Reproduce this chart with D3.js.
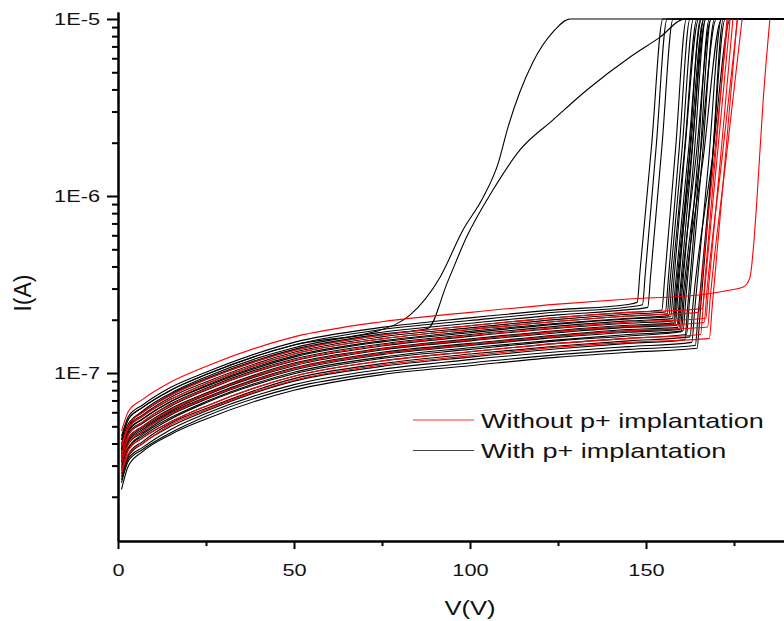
<!DOCTYPE html>
<html>
<head>
<meta charset="utf-8">
<script src="https://cdn.jsdelivr.net/npm/d3@7"></script>
<style>
	html, body { margin: 0; padding: 0; background: #fff; }
	svg { display: block; font-family: 'Liberation Sans', Arial, sans-serif; }
	.axis path, .axis line { stroke: #000; stroke-width: 2; }
	.curve { fill: none; stroke-width: 1.1; }
</style>
</head>
<body>
<svg id="iv-chart" width="784" height="621"></svg>
<script>
// voltages (V) where the leakage part of every curve is read
var leakVolts = [1, 3, 7, 15, 25, 50, 75, 100, 125, 145];

// leakage currents in nA, one row per device, read along leakVolts
var redLeak = [
	[47, 61, 71, 89, 109, 160, 195, 220, 245, 262],
	[39, 51, 60, 75, 92, 134, 164, 185, 206, 220],
	[38, 49, 57, 71, 87, 128, 156, 176, 196, 210],
	[35, 45, 53, 66, 81, 118, 144, 163, 181, 194],
	[33, 43, 50, 62, 76, 112, 137, 154, 172, 183],
	[31, 40, 47, 59, 72, 106, 129, 145, 162, 173],
	[28, 37, 43, 53, 65, 96, 117, 132, 147, 157],
	[27, 35, 40, 51, 62, 91, 111, 125, 140, 149]
];

// breakdown part of every red curve: [V, nA], up to the 10 uA compliance
var redBreak = [
	[[165, 276], [172, 290], [177.6, 306], [179.5, 345], [180.8, 600], [181.5, 950], [183.3, 3500], [185.2, 10000]],
	[[166, 231], [166.8, 347], [169.9, 1863], [173, 10000]],
	[[165, 220], [165.8, 330], [169.6, 1817], [173.3, 10000]],
	[[167, 204], [167.8, 306], [171.3, 1749], [174.7, 10000]],
	[[166.5, 193], [167.3, 290], [171.7, 1703], [176, 10000]],
	[[167.5, 182], [168.3, 273], [172.8, 1652], [177.3, 10000]],
	[[165.5, 165], [166.3, 248], [170.1, 1575], [173.9, 10000]],
	[[168, 157], [168.8, 236], [172.4, 1536], [175.9, 10000]]
];

var blackLeak = [
	[42, 55, 64, 80, 98, 144, 176],
	[40, 52, 60, 76, 93, 136, 166],
	[44, 57, 66, 83, 101, 149, 181, 205, 228, 244],
	[42, 55, 64, 80, 98, 144, 176, 198, 221, 236],
	[37, 51, 61, 77, 95, 139, 170, 191, 213, 228],
	[39, 51, 60, 75, 92, 134, 164, 185, 206, 220],
	[39, 50, 58, 73, 89, 131, 160, 180, 201, 215],
	[38, 49, 57, 71, 87, 128, 156, 176, 196, 210],
	[37, 48, 55, 69, 85, 125, 152, 172, 191, 204],
	[36, 47, 55, 69, 84, 123, 150, 169, 189, 202],
	[35, 46, 53, 67, 82, 120, 146, 165, 184, 197],
	[34, 45, 52, 65, 80, 117, 142, 161, 179, 191],
	[33, 43, 50, 63, 77, 114, 138, 156, 174, 186],
	[33, 43, 50, 62, 76, 112, 137, 154, 172, 183],
	[32, 42, 49, 61, 75, 110, 135, 152, 169, 181],
	[31, 41, 48, 60, 73, 107, 131, 147, 164, 176],
	[31, 40, 47, 59, 72, 106, 129, 145, 162, 173],
	[31, 40, 46, 58, 71, 104, 127, 143, 159, 170],
	[30, 38, 45, 56, 69, 101, 123, 139, 154, 165],
	[29, 38, 44, 55, 68, 99, 121, 136, 152, 162],
	[28, 37, 43, 53, 65, 96, 117, 132, 147, 157],
	[27, 35, 41, 52, 63, 93, 113, 128, 142, 152],
	[26, 34, 40, 50, 61, 90, 109, 123, 137, 147],
	[25, 33, 38, 48, 59, 86, 105, 119, 132, 141],
	[24, 32, 37, 46, 57, 83, 101, 114, 127, 136],
	[22, 30, 36, 45, 55, 80, 98, 110, 123, 131]
];

var blackBreak = [
	[[83, 213], [91.5, 348], [98, 643], [103.7, 980], [108, 1530], [110.8, 2450], [117.9, 5720], [123.6, 8450], [128.4, 10000], [190, 10000]],
	[[88.1, 179], [93.5, 322], [99.1, 590], [106.5, 1080], [114.2, 1820], [123.6, 2690], [133.2, 3970], [145.5, 6100], [154, 7900], [161, 10000], [190, 10000]],
	[[147.5, 251], [148.3, 377], [151.6, 1942], [154.8, 10000], [190, 10000]],
	[[149, 243], [149.8, 365], [152.9, 1910], [156, 10000], [190, 10000]],
	[[150.5, 235], [151.3, 353], [154.5, 1879], [157.7, 10000], [190, 10000]],
	[[154.5, 227], [155.3, 341], [158.4, 1847], [161.5, 10000], [190, 10000]],
	[[155.5, 221], [156.3, 332], [159.4, 1822], [162.5, 10000], [190, 10000]],
	[[156, 216], [156.8, 324], [160.2, 1800], [163.5, 10000], [190, 10000]],
	[[156.5, 211], [157.3, 317], [160.9, 1780], [164.5, 10000], [190, 10000]],
	[[157, 208], [157.8, 312], [161, 1766], [165, 10000], [190, 10000]],
	[[157.5, 203], [158.3, 305], [162, 1746], [165.8, 10000], [190, 10000]],
	[[157.8, 197], [158.6, 296], [162.5, 1720], [166.4, 10000], [190, 10000]],
	[[158, 192], [158.8, 288], [162.9, 1697], [167, 10000], [190, 10000]],
	[[158.3, 189], [159.1, 284], [162.3, 1685], [165.5, 10000], [190, 10000]],
	[[158.8, 186], [159.6, 279], [163, 1670], [166.5, 10000], [190, 10000]],
	[[159, 181], [159.8, 272], [164.2, 1649], [168.5, 10000], [190, 10000]],
	[[159.3, 178], [160.1, 267], [163.6, 1634], [167, 10000], [190, 10000]],
	[[159.7, 176], [160.5, 264], [165.3, 1625], [170, 10000], [190, 10000]],
	[[160.5, 173], [161.3, 260], [164.7, 1612], [168, 10000], [190, 10000]],
	[[160, 171], [160.8, 257], [166.2, 1603], [171.5, 10000], [190, 10000]],
	[[161.5, 165], [162.3, 248], [165.9, 1575], [169.5, 10000], [190, 10000]],
	[[162.5, 160], [163.3, 240], [168.7, 1549], [174, 10000], [190, 10000]],
	[[161, 154], [161.8, 231], [165.2, 1520], [168.5, 10000], [190, 10000]],
	[[163, 149], [163.8, 224], [167.7, 1497], [171.5, 10000], [190, 10000]],
	[[164, 143], [164.8, 215], [168.7, 1466], [172.5, 10000], [190, 10000]],
	[[164.5, 138], [165.3, 207], [168.7, 1439], [172, 10000], [190, 10000]]
];

var seriesNames = ['Without p+ implantation', 'With p+ implantation'];
var seriesColors = ['#ff0000', '#000000'];

var xMajorTicks = [0, 50, 100, 150];
var xMinorTicks = [25, 75, 125, 175];
var yMajorTicks = [1e-7, 1e-6, 1e-5];

window.app = window.app || {};

app.ivChart = (function() {

	'use strict';

	// text in the original is drawn wider than it is tall
	var stretch = 1.28;

	/**
	* join leakage row and breakdown points into one list of [V, A]
	* @returns {Array}
	*/
	var toPoints = function(leak, brk) {
		var pts = leak.map(function(v, i) {
			return [leakVolts[i], v * 1e-9];
		});
		brk.forEach(function(p) {
			pts.push([p[0], p[1] * 1e-9]);
		});
		return pts;
	};

	/**
	* draw the I-V chart
	* @returns {undefined}
	*/
	var createChart = function() {
		var svg = d3.select('#iv-chart'),
			left = 118,
			bottom = 541,
			top = 12;

		var xScale = d3.scaleLinear()
				.domain([0, 190])
				.range([left, left + 190 * 3.52]);

		var yScale = d3.scaleLog()
				.domain([1.125e-8, 1.095e-5])
				.range([bottom, top]);

		svg.append('clipPath')
			.attr('id', 'plot-clip')
			.append('rect')
			.attr('x', left)
			.attr('y', 0)
			.attr('width', 784 - left)
			.attr('height', bottom);

		var line = d3.line()
				.x(function(d) { return xScale(d[0]); })
				.y(function(d) { return yScale(d[1]); })
				.curve(d3.curveMonotoneX);

		var plot = svg.append('g').attr('clip-path', 'url(#plot-clip)');

		// black first, red drawn over it
		plot.selectAll('.black-curve')
			.data(blackLeak.map(function(row, i) { return toPoints(row, blackBreak[i]); }))
			.enter()
			.append('path')
			.attr('class', 'curve black-curve')
			.attr('stroke', seriesColors[1])
			.attr('d', line);

		plot.selectAll('.red-curve')
			.data(redLeak.map(function(row, i) { return toPoints(row, redBreak[i]); }))
			.enter()
			.append('path')
			.attr('class', 'curve red-curve')
			.attr('stroke', seriesColors[0])
			.attr('d', line);

		// axes
		var yMinor = yScale.ticks().filter(function(t) {
			return yMajorTicks.every(function(m) { return Math.abs(t / m - 1) > 1e-6; });
		});

		svg.append('g')
			.attr('class', 'axis')
			.attr('transform', 'translate(0,' + bottom + ')')
			.call(d3.axisBottom(xScale).tickValues(xMinorTicks).tickSize(5).tickSizeOuter(0).tickFormat(''));

		var xAxis = svg.append('g')
			.attr('class', 'axis')
			.attr('transform', 'translate(0,' + bottom + ')')
			.call(d3.axisBottom(xScale).tickValues(xMajorTicks).tickSize(8).tickSizeOuter(0).tickPadding(15));

		svg.append('g')
			.attr('class', 'axis')
			.attr('transform', 'translate(' + left + ',0)')
			.call(d3.axisLeft(yScale).tickValues(yMinor).tickSize(6).tickSizeOuter(0).tickFormat(''));

		var yAxis = svg.append('g')
			.attr('class', 'axis')
			.attr('transform', 'translate(' + left + ',0)')
			.call(d3.axisLeft(yScale).tickValues(yMajorTicks).tickSize(11).tickSizeOuter(0).tickPadding(7)
				.tickFormat(function(d) { return '1E' + Math.round(Math.log10(d)); }));

		xAxis.selectAll('text')
			.attr('font-size', 17)
			.attr('fill', '#111')
			.attr('transform', 'scale(' + stretch + ',1)');

		yAxis.selectAll('text')
			.attr('font-size', 17)
			.attr('fill', '#111')
			.attr('x', -18 / stretch)
			.attr('transform', 'scale(' + stretch + ',1)');

		// axis titles
		svg.append('text')
			.attr('transform', 'translate(470,615) scale(' + stretch + ',1)')
			.attr('text-anchor', 'middle')
			.attr('font-size', 20)
			.attr('fill', '#111')
			.text('V(V)');

		svg.append('text')
			.attr('transform', 'translate(31,293) rotate(-90)')
			.attr('text-anchor', 'middle')
			.attr('font-size', 23)
			.attr('fill', '#111')
			.text('I(A)');

		// legend
		var legend = svg.append('g')
			.selectAll('g')
			.data(seriesNames)
			.enter()
			.append('g')
			.attr('transform', function(d, i) { return 'translate(413,' + (420 + i * 30.5) + ')'; });

		legend.append('line')
			.attr('x1', 0)
			.attr('x2', 61)
			.attr('stroke', function(d, i) { return i ? '#444' : '#ff3030'; })
			.attr('stroke-width', 1.2);

		legend.append('text')
			.attr('transform', 'translate(68,7.5) scale(1.35,1)')
			.attr('font-size', 20)
			.attr('fill', '#111')
			.text(function(d) { return d; });
	};

	var init = function() {
		createChart();
	};

	return {
		init: init
	};

})();

app.ivChart.init();
</script>
</body>
</html>
